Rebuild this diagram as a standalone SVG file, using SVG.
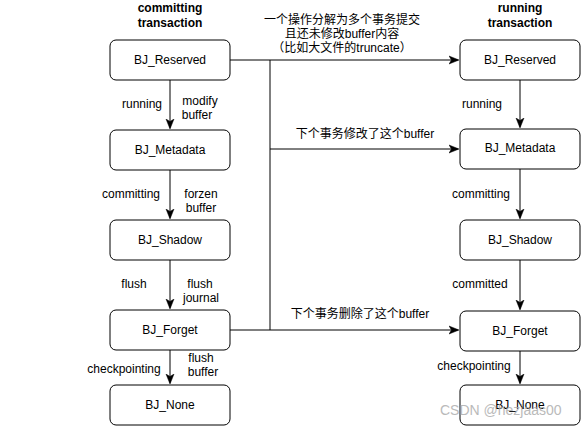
<svg xmlns="http://www.w3.org/2000/svg" width="581" height="427" viewBox="0 0 581 427">
<style>
text{font-family:"Liberation Sans","Noto Sans CJK SC",Arial,sans-serif;font-size:12px;fill:#000}
.node rect{fill:#fff;stroke:#000;stroke-width:1}
.node text{text-anchor:middle}
.title{font-weight:bold;text-anchor:middle}
.c{text-anchor:middle}
.edge{fill:none;stroke:#000;stroke-width:1}
.wm{fill:#aaa;font-size:14px;opacity:0.8}
</style>
<defs>
<marker id="arr" viewBox="0 0 10 10" refX="9" refY="5" markerWidth="10" markerHeight="10" markerUnits="userSpaceOnUse" orient="auto">
<path d="M0,1 L10,5 L0,9 L2.5,5 Z" fill="#000" stroke="#000" stroke-width="0.5"/>
</marker>
</defs>
<rect width="581" height="427" fill="#fff"/>
<text class="title" x="170" y="12">committing</text>
<text class="title" x="170" y="27">transaction</text>
<text class="title" x="520" y="12">running</text>
<text class="title" x="520" y="27">transaction</text>

<g id="connectors">
<path class="edge" d="M170,80 V128" marker-end="url(#arr)"/>
<path class="edge" d="M170,170 V218" marker-end="url(#arr)"/>
<path class="edge" d="M170,260 V308" marker-end="url(#arr)"/>
<path class="edge" d="M170,350 V383" marker-end="url(#arr)"/>
<path class="edge" d="M520,80 V127" marker-end="url(#arr)"/>
<path class="edge" d="M520,169 V218" marker-end="url(#arr)"/>
<path class="edge" d="M520,260 V309" marker-end="url(#arr)"/>
<path class="edge" d="M520,351 V383" marker-end="url(#arr)"/>
<path class="edge" d="M230,60 H458" marker-end="url(#arr)"/>
<path class="edge" d="M270,60 V330"/>
<path class="edge" d="M270,149 H458" marker-end="url(#arr)"/>
<path class="edge" d="M230,330 H458" marker-end="url(#arr)"/>
</g>

<g id="labels">
<text class="c" x="142" y="108">running</text>
<text class="c" x="200" y="105">modify</text>
<text class="c" x="197" y="119">buffer</text>
<text class="c" x="131" y="198">committing</text>
<text class="c" x="201" y="198">forzen</text>
<text class="c" x="201" y="212">buffer</text>
<text class="c" x="134" y="288">flush</text>
<text class="c" x="200" y="288">flush</text>
<text class="c" x="201" y="302">journal</text>
<text class="c" x="124" y="373">checkpointing</text>
<text class="c" x="201" y="362">flush</text>
<text class="c" x="203" y="376">buffer</text>
<text class="c" x="482" y="108">running</text>
<text class="c" x="481" y="198">committing</text>
<text class="c" x="480" y="288">committed</text>
<text class="c" x="474" y="370">checkpointing</text>
<text class="c" x="342" y="24">一个操作分解为多个事务提交</text>
<text class="c" x="342" y="38">且还未修改buffer内容</text>
<text class="c" x="342" y="52">（比如大文件的truncate）</text>
<text class="c" x="365" y="138">下个事务修改了这个buffer</text>
<text class="c" x="360" y="318">下个事务删除了这个buffer</text>
</g>

<g id="l-reserved" class="node"><rect x="110" y="40" width="120" height="40" rx="6"/><text x="170" y="64">BJ_Reserved</text></g>
<g id="l-metadata" class="node"><rect x="110" y="130" width="120" height="40" rx="6"/><text x="170" y="154">BJ_Metadata</text></g>
<g id="l-shadow" class="node"><rect x="110" y="220" width="120" height="40" rx="6"/><text x="170" y="244">BJ_Shadow</text></g>
<g id="l-forget" class="node"><rect x="110" y="310" width="120" height="40" rx="6"/><text x="170" y="334">BJ_Forget</text></g>
<g id="l-none" class="node"><rect x="110" y="385" width="120" height="40" rx="6"/><text x="170" y="409">BJ_None</text></g>

<g id="r-reserved" class="node"><rect x="460" y="40" width="120" height="40" rx="6"/><text x="520" y="64">BJ_Reserved</text></g>
<g id="r-metadata" class="node"><rect x="460" y="129" width="120" height="40" rx="6"/><text x="520" y="152">BJ_Metadata</text></g>
<g id="r-shadow" class="node"><rect x="460" y="220" width="120" height="40" rx="6"/><text x="520" y="244">BJ_Shadow</text></g>
<g id="r-forget" class="node"><rect x="460" y="311" width="120" height="40" rx="6"/><text x="520" y="335">BJ_Forget</text></g>
<g id="r-none" class="node"><rect x="460" y="385" width="120" height="40" rx="6"/><text x="520" y="409">BJ_None</text></g>

<text class="wm" x="440" y="415">CSDN @hezjaas00</text>
</svg>
